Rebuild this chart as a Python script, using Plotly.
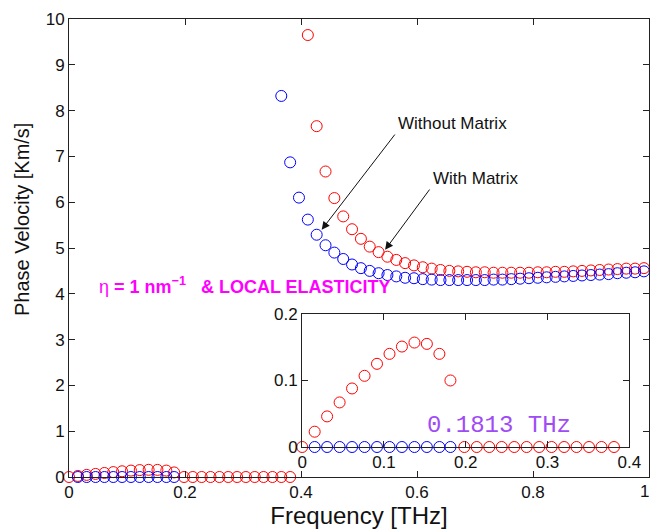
import plotly.graph_objects as go

# Frequency grid [THz]
freq = [0.0, 0.0153, 0.0305, 0.0458, 0.061, 0.0763, 0.0915, 0.1068, 0.122, 0.1373,
        0.1525, 0.1678, 0.1813, 0.1983, 0.2135, 0.2288, 0.244, 0.2593, 0.2745, 0.2898,
        0.305, 0.3203, 0.3355, 0.3508, 0.366, 0.3813, 0.3965, 0.4118, 0.427, 0.4423,
        0.4575, 0.4728, 0.488, 0.5033, 0.5185, 0.5338, 0.549, 0.5643, 0.5795, 0.5948,
        0.61, 0.6253, 0.6405, 0.6558, 0.671, 0.6863, 0.7015, 0.7168, 0.732, 0.7473,
        0.7625, 0.7778, 0.793, 0.8083, 0.8235, 0.8388, 0.854, 0.8693, 0.8845, 0.8998,
        0.915, 0.9303, 0.9455, 0.9608, 0.976, 0.9913]

# Phase velocity [Km/s] - without matrix (blue)
vel_without = ([None] + [0.0] * 12 + [None] * 11 +
               [8.32, 6.87, 6.10, 5.62, 5.29, 5.06, 4.90, 4.76, 4.64, 4.56,
                4.50, 4.45, 4.41, 4.38, 4.35, 4.34, 4.32, 4.31, 4.30, 4.30,
                4.30, 4.30, 4.30, 4.30, 4.31, 4.31, 4.32, 4.33, 4.34, 4.35,
                4.36, 4.37, 4.38, 4.39, 4.40, 4.41, 4.42, 4.43, 4.45, 4.46,
                4.47, 4.49])

# Phase velocity [Km/s] - with matrix (red)
vel_with = ([0.0, 0.023, 0.046, 0.067, 0.088, 0.107, 0.125, 0.140, 0.151, 0.157,
             0.155, 0.140, 0.100] + [0.0] * 13 + [None] +
            [9.65, 7.66, 6.67, 6.09, 5.69, 5.41, 5.20, 5.03, 4.91, 4.81,
             4.74, 4.67, 4.62, 4.58, 4.55, 4.52, 4.50, 4.49, 4.48, 4.47,
             4.47, 4.46, 4.46, 4.46, 4.46, 4.46, 4.47, 4.47, 4.48, 4.48,
             4.49, 4.50, 4.51, 4.52, 4.53, 4.54, 4.55, 4.55, 4.56])

main_xticks = [0, 0.2, 0.4, 0.6, 0.8, 1]
main_xlabels = ["0", "0.2", "0.4", "0.6", "0.8", "1"]
main_yticks = list(range(0, 11))
inset_xticks = [0, 0.1, 0.2, 0.3, 0.4]
inset_yticks = [0, 0.1, 0.2]

FONT = "Liberation Sans, Arial, sans-serif"
BLUE = "#0000ff"
RED = "#ff0000"


def inset_vals(vals):
    return [v if (v is not None and f <= 0.4 and v <= 0.2) else None
            for f, v in zip(freq, vals)]


fig = go.Figure()
mk = dict(symbol="circle-open", size=11, line=dict(width=1))

fig.add_trace(go.Scatter(x=freq, y=vel_with, mode="markers", cliponaxis=False,
                         marker=dict(color=RED, **mk), xaxis="x", yaxis="y"))
fig.add_trace(go.Scatter(x=freq, y=vel_without, mode="markers", cliponaxis=False,
                         marker=dict(color=BLUE, **mk), xaxis="x", yaxis="y"))
fig.add_trace(go.Scatter(x=freq, y=inset_vals(vel_with), mode="markers", cliponaxis=False,
                         marker=dict(color=RED, **mk), xaxis="x2", yaxis="y2"))
fig.add_trace(go.Scatter(x=freq, y=inset_vals(vel_without), mode="markers", cliponaxis=False,
                         marker=dict(color=BLUE, **mk), xaxis="x2", yaxis="y2"))

axis_common = dict(showline=True, linecolor="#222222", linewidth=1, mirror="ticks",
                   ticks="inside", ticklen=6, tickcolor="#222222", showgrid=False,
                   zeroline=False, automargin=False,
                   tickfont=dict(family=FONT, size=17, color="#111111"))

fig.update_layout(
    width=652, height=529,
    margin=dict(l=69, r=3, t=19, b=52),
    paper_bgcolor="white", plot_bgcolor="white",
    showlegend=False,
    xaxis=dict(range=[0, 1], tickvals=main_xticks, ticktext=main_xlabels,
               title=dict(text="Frequency [THz]", font=dict(family=FONT, size=24, color="#111111"),
                          standoff=4),
               domain=[0, 1], anchor="y", **axis_common),
    yaxis=dict(range=[0, 10], tickvals=main_yticks,
               domain=[0, 1], anchor="x", **axis_common),
    xaxis2=dict(range=[0, 0.4], tickvals=inset_xticks, ticktext=["0", "0.1", "0.2", "0.3", "0.4"],
                domain=[0.402, 0.966], anchor="y2", **axis_common),
    yaxis2=dict(range=[0, 0.2], tickvals=inset_yticks, ticktext=["0", "0.1", "0.2"],
                domain=[0.0655, 0.356], anchor="x2", **axis_common),
)

# last x tick label sits on the page edge (plotly drops it), so draw it explicitly
fig.add_annotation(x=main_xticks[-1], y=-15 / 458, xref="x", yref="paper", text=main_xlabels[-1],
                   showarrow=False, xanchor="right", yanchor="middle", xshift=2,
                   font=dict(family=FONT, size=17, color="#111111"))

# y-axis title (placed as in reference, slightly above centre)
fig.add_annotation(x=(22 - 69) / 580, y=(477 - 220) / 458, xref="paper", yref="paper",
                   text="Phase Velocity [Km/s]", showarrow=False, textangle=-90,
                   xanchor="center", yanchor="middle",
                   font=dict(family=FONT, size=20, color="#111111"))

# text labels
fig.add_annotation(x=0.5638, y=7.71, xref="x", yref="y", text="Without Matrix", showarrow=False,
                   xanchor="left", yanchor="middle", font=dict(family=FONT, size=17, color="#111111"))
fig.add_annotation(x=0.6236, y=6.51, xref="x", yref="y", text="With Matrix", showarrow=False,
                   xanchor="left", yanchor="middle", font=dict(family=FONT, size=17, color="#111111"))
# arrows
fig.add_annotation(x=0.4357, y=5.40, ax=0.5638, ay=7.51, xref="x", yref="y", axref="x", ayref="y",
                   text="", showarrow=True, arrowhead=2, arrowsize=1.6, arrowwidth=1,
                   arrowcolor="#111111", standoff=0)
fig.add_annotation(x=0.545, y=4.96, ax=0.6236, ay=6.31, xref="x", yref="y", axref="x", ayref="y",
                   text="", showarrow=True, arrowhead=2, arrowsize=1.6, arrowwidth=1,
                   arrowcolor="#111111", standoff=0)

fig.add_annotation(x=0.048, y=4.19, xref="x", yref="y", showarrow=False, xanchor="left", yanchor="middle",
                   text="η<b> = 1 nm<sup>−1</sup>   &amp; LOCAL ELASTICITY</b>",
                   font=dict(family=FONT, size=18, color="#ff00ff"))

fig.add_annotation(x=0.150, y=0.033, xref="x2", yref="y2", showarrow=False, xanchor="left",
                   yanchor="middle", text="0.1813 THz",
                   font=dict(family="Liberation Mono, Courier New, monospace", size=24, color="#a04cf6"))

fig.write_html("out.html")
